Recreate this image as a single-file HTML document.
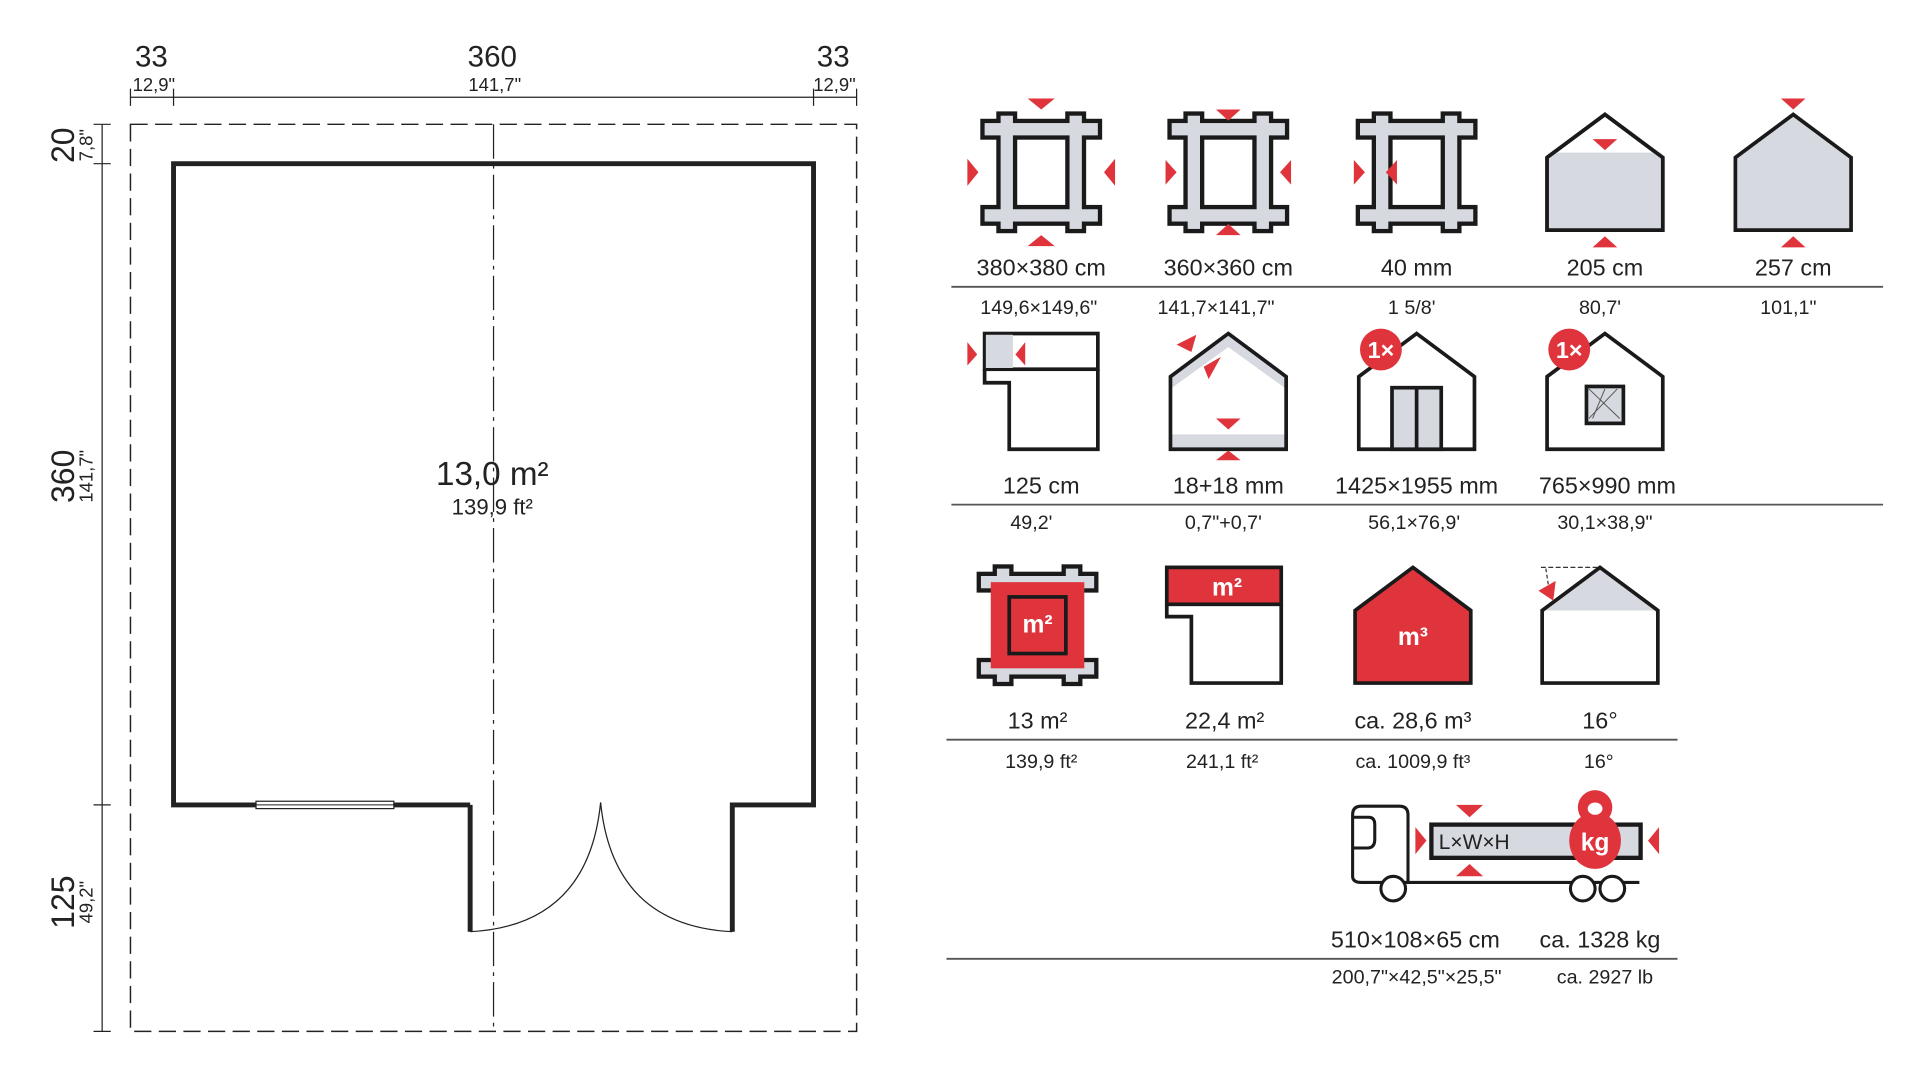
<!DOCTYPE html>
<html><head><meta charset="utf-8"><style>
html,body{margin:0;padding:0;background:#fff;}
svg{display:block;}
text{font-family:"Liberation Sans Narrow","Liberation Sans",sans-serif;fill:#222;}
</style></head><body>
<svg width="1920" height="1080" viewBox="0 0 1560 877.5" xmlns="http://www.w3.org/2000/svg">
<defs>
<g id="frame">
 <g fill="none" stroke="#1a1a1a" stroke-width="7">
  <rect x="-46" y="-40" width="92" height="10"/><rect x="-46" y="30" width="92" height="10"/>
  <rect x="-33" y="-46" width="10" height="92"/><rect x="23" y="-46" width="10" height="92"/>
 </g>
 <g fill="#d6d9df">
  <rect x="-46" y="-40" width="92" height="10"/><rect x="-46" y="30" width="92" height="10"/>
  <rect x="-33" y="-46" width="10" height="92"/><rect x="23" y="-46" width="10" height="92"/>
 </g>
</g>
<polygon id="house" points="-47,-12 0,-47 47,-12 47,47 -47,47"/>
</defs>

<!-- ===== Floor plan ===== -->
<g stroke="#222" fill="none">
 <line x1="106" y1="79" x2="696" y2="79" stroke-width="1"/>
 <line x1="106" y1="72" x2="106" y2="86"/><line x1="141" y1="72" x2="141" y2="86"/>
 <line x1="661" y1="72" x2="661" y2="86"/><line x1="696" y1="72" x2="696" y2="86"/>
 <line x1="83" y1="101" x2="83" y2="838" stroke-width="1"/>
 <line x1="76" y1="101" x2="90" y2="101"/><line x1="76" y1="133" x2="90" y2="133"/>
 <line x1="76" y1="654" x2="90" y2="654"/><line x1="76" y1="838" x2="90" y2="838"/>
 <rect x="106" y="101" width="590" height="737" stroke-width="1.2" stroke-dasharray="14,6"/>
 <line x1="401" y1="101" x2="401" y2="838" stroke-width="1" stroke-dasharray="28,5,3,5"/>
 <polyline points="382,654 141,654 141,133 661,133 661,654 595,654 595,757" stroke-width="4"/>
 <polyline points="382,654 382,757" stroke-width="4"/>
 <rect x="208" y="651" width="112" height="6" fill="#fff" stroke-width="1"/>
 <line x1="208" y1="654" x2="320" y2="654" stroke-width="0.8"/>
 <path d="M382,757 Q478,752 488,652" stroke-width="1"/>
 <path d="M595,757 Q498,752 488,652" stroke-width="1"/>
</g>
<g font-size="24" text-anchor="middle">
 <text x="123" y="54">33</text><text x="400" y="54">360</text><text x="677" y="54">33</text>
</g>
<g font-size="15" text-anchor="middle">
 <text x="125" y="74">12,9"</text><text x="402" y="74">141,7"</text><text x="678" y="74">12,9"</text>
</g>
<text x="400" y="394" font-size="27" text-anchor="middle">13,0 m²</text>
<text x="400" y="418" font-size="18" text-anchor="middle">139,9 ft²</text>
<g text-anchor="middle">
 <text transform="translate(60,118) rotate(-90)" font-size="26" font-family="Liberation Sans,sans-serif">20</text>
 <text transform="translate(75,118) rotate(-90)" font-size="15">7,8"</text>
 <text transform="translate(60,387) rotate(-90)" font-size="26" font-family="Liberation Sans,sans-serif">360</text>
 <text transform="translate(75,387) rotate(-90)" font-size="15">141,7"</text>
 <text transform="translate(60,733) rotate(-90)" font-size="26" font-family="Liberation Sans,sans-serif">125</text>
 <text transform="translate(75,733) rotate(-90)" font-size="15">49,2"</text>
</g>

<!-- ===== Row 1 ===== -->
<g transform="translate(846,140)"><use href="#frame"/>
 <g fill="#e0343c"><polygon points="-11,-60 11,-60 0,-51"/><polygon points="-11,60 11,60 0,51"/>
 <polygon points="-60,-11 -60,11 -51,0"/><polygon points="60,-11 60,11 51,0"/></g></g>
<g transform="translate(998,140)"><use href="#frame"/>
 <g fill="#e0343c"><polygon points="-10,-51 10,-51 0,-42"/><polygon points="-10,51 10,51 0,42"/>
 <polygon points="-51,-10 -51,10 -42,0"/><polygon points="51,-10 51,10 42,0"/></g></g>
<g transform="translate(1151,140)"><use href="#frame"/>
 <g fill="#e0343c"><polygon points="-51,-10 -51,10 -42,0"/><polygon points="-16,-10 -16,10 -25,0"/></g></g>
<g transform="translate(1304,140)">
 <use href="#house" fill="#fff" stroke="#1a1a1a" stroke-width="3"/>
 <rect x="-46" y="-16" width="92" height="62" fill="#d6d9df"/>
 <use href="#house" fill="none" stroke="#1a1a1a" stroke-width="3"/>
 <g fill="#e0343c"><polygon points="-10,-27 10,-27 0,-18"/><polygon points="-10,61 10,61 0,52"/></g></g>
<g transform="translate(1457,140)">
 <use href="#house" fill="#d6d9df" stroke="#1a1a1a" stroke-width="3"/>
 <g fill="#e0343c"><polygon points="-10,-60 10,-60 0,-51"/><polygon points="-10,61 10,61 0,52"/></g></g>
<g font-size="19" text-anchor="middle">
 <text x="846" y="224">380×380 cm</text><text x="998" y="224">360×360 cm</text><text x="1151" y="224">40 mm</text>
 <text x="1304" y="224">205 cm</text><text x="1457" y="224">257 cm</text>
</g>
<line x1="773" y1="233" x2="1530" y2="233" stroke="#555" stroke-width="1.5"/>
<g font-size="16" text-anchor="middle">
 <text x="844" y="255">149,6×149,6"</text><text x="988" y="255">141,7×141,7"</text><text x="1147" y="255">1 5/8'</text>
 <text x="1300" y="255">80,7'</text><text x="1453" y="255">101,1"</text>
</g>

<!-- ===== Row 2 ===== -->
<g transform="translate(846,318)" stroke="#1a1a1a" stroke-width="3">
 <rect x="-46" y="-47" width="92" height="29" fill="#fff"/>
 <rect x="-45" y="-46" width="22" height="27" fill="#d6d9df" stroke="none"/>
 <polyline points="-46,-18 -46,-7 -26,-7 -26,47 46,47 46,-18" fill="none"/>
 <g fill="#e0343c" stroke="none"><polygon points="-60,-40 -60,-21 -52,-30"/><polygon points="-13,-40 -13,-21 -21,-30"/></g></g>
<g transform="translate(998,318)">
 <use href="#house" fill="#fff"/>
 <polygon points="-47,-12 0,-47 47,-12 47,-2 0,-36 -47,-2" fill="#d6d9df"/>
 <rect x="-46" y="35" width="92" height="12" fill="#d6d9df"/>
 <use href="#house" fill="none" stroke="#1a1a1a" stroke-width="3"/>
 <g fill="#e0343c"><polygon points="-42,-38 -26,-46 -30,-32"/><polygon points="-20,-20 -6,-28 -16,-10"/>
 <polygon points="-10,22 10,22 0,31"/><polygon points="-10,56 10,56 0,48"/></g></g>
<g transform="translate(1151,318)">
 <use href="#house" fill="#fff" stroke="#1a1a1a" stroke-width="3"/>
 <rect x="-20" y="-3" width="40" height="50" fill="#d6d9df" stroke="#1a1a1a" stroke-width="3"/>
 <line x1="0" y1="-3" x2="0" y2="47" stroke="#1a1a1a" stroke-width="3"/>
 <circle cx="-29" cy="-34" r="17" fill="#e0343c"/>
 <text x="-29" y="-27" font-size="19" font-weight="bold" text-anchor="middle" style="fill:#fff">1×</text></g>
<g transform="translate(1304,318)">
 <use href="#house" fill="#fff" stroke="#1a1a1a" stroke-width="3"/>
 <rect x="-15" y="-4" width="30" height="30" fill="#d6d9df" stroke="#1a1a1a" stroke-width="3"/>
 <path d="M-13,22 L10,-2 M-13,-2 L12,22 M0,-2 L-10,22" stroke="#555" stroke-width="0.8"/>
 <circle cx="-29" cy="-34" r="17" fill="#e0343c"/>
 <text x="-29" y="-27" font-size="19" font-weight="bold" text-anchor="middle" style="fill:#fff">1×</text></g>
<g font-size="19" text-anchor="middle">
 <text x="846" y="401">125 cm</text><text x="998" y="401">18+18 mm</text><text x="1151" y="401">1425×1955 mm</text>
 <text x="1306" y="401">765×990 mm</text>
</g>
<line x1="773" y1="410" x2="1530" y2="410" stroke="#555" stroke-width="1.5"/>
<g font-size="16" text-anchor="middle">
 <text x="838" y="430">49,2'</text><text x="994" y="430">0,7"+0,7'</text><text x="1149" y="430">56,1×76,9'</text>
 <text x="1304" y="430">30,1×38,9"</text>
</g>

<!-- ===== Row 3 ===== -->
<g transform="translate(843,508)">
 <use href="#frame"/>
 <rect x="-38" y="-35" width="76" height="70" fill="#e0343c"/>
 <rect x="-23" y="-23" width="46" height="46" fill="#e0343c" stroke="#1a1a1a" stroke-width="3"/>
 <text x="0" y="6" font-size="20" font-weight="bold" text-anchor="middle" style="fill:#fff">m²</text></g>
<g transform="translate(995,508)" stroke="#1a1a1a" stroke-width="3">
 <rect x="-47" y="-47" width="93" height="30" fill="#e0343c"/>
 <polyline points="-47,-17 -47,-7 -27,-7 -27,47 46,47 46,-17" fill="none"/>
 <text x="2" y="-24" font-size="20" font-weight="bold" text-anchor="middle" stroke="none" style="fill:#fff">m²</text></g>
<g transform="translate(1148,508)">
 <use href="#house" fill="#e0343c" stroke="#1a1a1a" stroke-width="3"/>
 <text x="0" y="16" font-size="20" font-weight="bold" text-anchor="middle" style="fill:#fff">m³</text></g>
<g transform="translate(1300,508)">
 <use href="#house" fill="#fff"/>
 <polygon points="-47,-12 0,-47 47,-12" fill="#d6d9df"/>
 <use href="#house" fill="none" stroke="#1a1a1a" stroke-width="3"/>
 <line x1="-48" y1="-47" x2="0" y2="-47" stroke="#333" stroke-width="1" stroke-dasharray="4,2"/>
 <line x1="-44" y1="-46" x2="-42" y2="-33" stroke="#333" stroke-width="1" stroke-dasharray="3,2"/>
 <polygon points="-50,-28 -36,-36 -38,-20" fill="#e0343c"/></g>
<g font-size="19" text-anchor="middle">
 <text x="843" y="592">13 m²</text><text x="995" y="592">22,4 m²</text><text x="1148" y="592">ca. 28,6 m³</text><text x="1300" y="592">16°</text>
</g>
<line x1="769" y1="601" x2="1363" y2="601" stroke="#555" stroke-width="1.5"/>
<g font-size="16" text-anchor="middle">
 <text x="846" y="624">139,9 ft²</text><text x="993" y="624">241,1 ft²</text><text x="1148" y="624">ca. 1009,9 ft³</text><text x="1299" y="624">16°</text>
</g>

<!-- ===== Truck ===== -->
<g stroke="#1a1a1a" fill="none" stroke-width="2.5">
 <path d="M1144,717 L1144,662 Q1144,655 1137,655 L1106,655 Q1099,655 1099,662 L1099,712 Q1099,717 1106,717 Z"/>
 <path d="M1099,664 L1112,664 Q1117,664 1117,670 L1117,682 Q1117,689 1111,689 L1099,689"/>
 <line x1="1144" y1="717" x2="1332" y2="717"/>
 <circle cx="1132" cy="722" r="10" fill="#fff"/>
 <circle cx="1286" cy="722" r="10" fill="#fff"/>
 <circle cx="1310" cy="722" r="10" fill="#fff"/>
 <rect x="1163" y="670" width="170" height="27" fill="#d6d9df" stroke-width="3.5"/>
</g>
<text x="1169" y="690" font-size="17">L×W×H</text>
<g fill="#e0343c">
 <polygon points="1183,654 1205,654 1194,664"/><polygon points="1183,712 1205,712 1194,702"/>
 <polygon points="1150,672 1150,694 1159,683"/><polygon points="1348,672 1348,694 1339,683"/>
 <circle cx="1296" cy="656" r="14"/>
 <ellipse cx="1296" cy="683" rx="21" ry="23"/>
</g>
<ellipse cx="1296" cy="657" rx="6" ry="5" fill="#fff"/>
<text x="1296" y="691" font-size="20" font-weight="bold" text-anchor="middle" style="fill:#fff">kg</text>
<g font-size="19" text-anchor="middle">
 <text x="1150" y="770">510×108×65 cm</text><text x="1300" y="770">ca. 1328 kg</text>
</g>
<line x1="769" y1="779" x2="1363" y2="779" stroke="#555" stroke-width="1.5"/>
<g font-size="16" text-anchor="middle">
 <text x="1151" y="799">200,7"×42,5"×25,5"</text><text x="1304" y="799">ca. 2927 lb</text>
</g>
</svg>
</body></html>
